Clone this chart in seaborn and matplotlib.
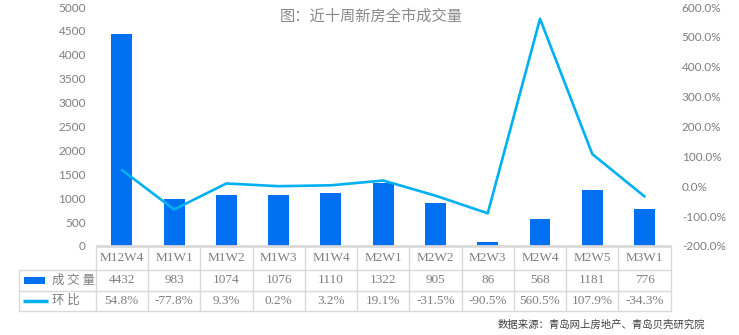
import matplotlib
matplotlib.use("Agg")
import matplotlib.pyplot as plt
import seaborn as sns
import pandas as pd
import numpy as np
from matplotlib.patches import Rectangle

# Weekly new-home transaction data
weeks = ["M12W4", "M1W1", "M1W2", "M1W3", "M1W4", "M2W1", "M2W2",
         "M2W3", "M2W4", "M2W5", "M3W1"]
volume = [4432, 983, 1074, 1076, 1110, 1322, 905, 86, 568, 1181, 776]
mom_pct = [54.8, -77.8, 9.3, 0.2, 3.2, 19.1, -31.5, -90.5, 560.5, 107.9, -34.3]
left_ticks = list(range(0, 5001, 500))
right_ticks = list(range(-200, 601, 100))
series_names = ["成 交 量", "环 比"]
title = "图：近十周新房全市成交量"
source = "数据来源：青岛网上房地产、青岛贝壳研究院"

BAR_COLOR = "#0070F0"
LINE_COLOR = "#00B0F0"
TEXT_GRAY = "#7F7F7F"
GRID_GRAY = "#D9D9D9"

sns.set_style("white")
plt.rcParams["font.family"] = ["Noto Sans CJK SC", "DejaVu Sans"]

W, H = 739, 335
fig = plt.figure(figsize=(W / 100, H / 100), dpi=100)

# plot area in pixel units
left, right, top, bottom = 95.7, 670.7, 7.0, 246.0
ax = fig.add_axes([left / W, 1 - bottom / H, (right - left) / W, (bottom - top) / H])

df = pd.DataFrame({"week": weeks, "volume": volume, "mom": mom_pct})
sns.barplot(data=df, x="week", y="volume", color=BAR_COLOR, width=0.4,
            saturation=1, linewidth=0, ax=ax)
ax.set_xlim(-0.5, len(weeks) - 0.5)
ax.set_ylim(0, 5000)
ax.set_xticks([])
ax.set_xlabel("")
ax.set_ylabel("")
ax.set_yticks(left_ticks)
ax.set_yticklabels([str(v) for v in left_ticks], fontfamily="Lato",
                   fontsize=8.5, color=TEXT_GRAY)
ax.tick_params(axis="y", length=0, pad=7)
for s in ["top", "left", "right", "bottom"]:
    ax.spines[s].set_visible(False)

ax2 = ax.twinx()
sns.lineplot(x=np.arange(len(weeks)), y=mom_pct, color=LINE_COLOR,
             linewidth=1.9, ax=ax2)
ax2.set_xlim(-0.5, len(weeks) - 0.5)
ax2.set_ylim(-200, 600)
ax2.set_yticks(right_ticks)
ax2.set_yticklabels([f"{v:.1f}%" for v in right_ticks], fontfamily="Lato",
                    fontsize=8.5, color=TEXT_GRAY)
ax2.tick_params(axis="y", length=0, pad=8)
ax2.set_ylabel("")
for s in ["top", "left", "right", "bottom"]:
    ax2.spines[s].set_visible(False)

# data table under the chart, drawn on a full-figure overlay in pixel units
tax = fig.add_axes([0, 0, 1, 1], zorder=5)
tax.set_xlim(0, W)
tax.set_ylim(H, 0)
tax.axis("off")

colw = (right - left) / len(weeks)
row_lines = [270.0, 290.7, 310.7]
table_left = 19.3

tax.plot([left, right], [bottom, bottom], color=GRID_GRAY, lw=2.0,
         solid_capstyle="butt")
for k in range(len(weeks) + 1):
    x = left + k * colw
    tax.plot([x, x], [bottom, row_lines[-1]], color=GRID_GRAY, lw=1.0)
tax.plot([table_left, table_left], [row_lines[0], row_lines[-1]],
         color=GRID_GRAY, lw=1.0)
for y in row_lines:
    tax.plot([table_left, right], [y, y], color=GRID_GRAY, lw=1.0)

row_y = [258.3, 280.3, 300.7]
for i, (w, v, p) in enumerate(zip(weeks, volume, mom_pct)):
    cx = left + (i + 0.5) * colw
    for y, txt in zip(row_y, [w, str(v), f"{p:.1f}%"]):
        tax.text(cx, y, txt, ha="center", va="center", fontsize=9.5,
                 color=TEXT_GRAY, fontfamily="Liberation Serif")

# legend keys in the table's first column
tax.add_patch(Rectangle((24, 277), 21, 7, color=BAR_COLOR, lw=0))
tax.plot([23, 48], [300.5, 300.5], color=LINE_COLOR, lw=2.5,
         solid_capstyle="butt")
tax.text(52, row_y[1], series_names[0], ha="left", va="center", fontsize=9,
         color=TEXT_GRAY, fontweight="light")
tax.text(52, row_y[2], series_names[1], ha="left", va="center", fontsize=9,
         color=TEXT_GRAY, fontweight="light")

tax.text(371, 16.5, title, ha="center", va="center", fontsize=11,
         color="#8A8A8A", fontweight="light")
tax.text(705, 325, source, ha="right", va="center", fontsize=7.5,
         color="#404040")

fig.savefig("out.png", dpi=100)
